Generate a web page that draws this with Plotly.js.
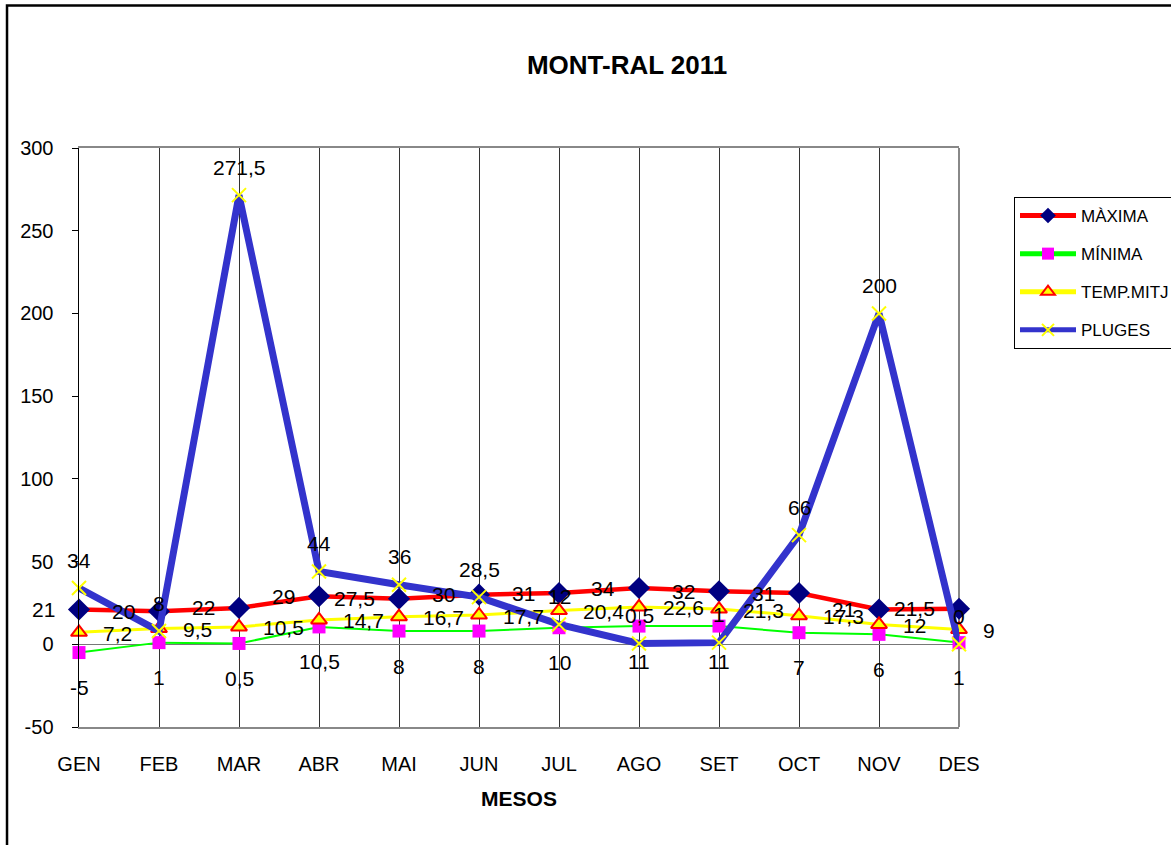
<!DOCTYPE html>
<html>
<head>
<meta charset="utf-8">
<script src="https://cdn.plot.ly/plotly-3.0.1.min.js"></script>
<style>
  html, body { margin: 0; padding: 0; background: #ffffff; }
  #chart { width: 1171px; height: 845px; }
</style>
</head>
<body>
<div id="chart"></div>
<script>
const months = ['GEN','FEB','MAR','ABR','MAI','JUN','JUL','AGO','SET','OCT','NOV','DES'];
const maxima = [21, 20, 22, 29, 27.5, 30, 31, 34, 32, 31, 21, 21.5];
const minima = [-5, 1, 0.5, 10.5, 8, 8, 10, 11, 11, 7, 6, 1];
const tempMitj = [7.2, 9.5, 10.5, 14.7, 16.7, 17.7, 20.4, 22.6, 21.3, 17.3, 12, 9];
const pluges = [34, 8, 271.5, 44, 36, 28.5, 12, 0.5, 1, 66, 200, 0];
const yTicks = [-50, 0, 50, 100, 150, 200, 250, 300];

const FONT = 'Liberation Sans, Arial, sans-serif';
const fmt = v => String(v).replace('.', ',');

const traces = [
  { name: 'MÀXIMA', y: maxima, legendgroup: 'a',
    line: { color: '#FF0000', width: 4.5 },
    marker: { symbol: 'diamond', size: 17, color: '#000080' } },
  { name: 'MÍNIMA', y: minima, legendgroup: 'b',
    line: { color: '#00FF00', width: 2 },
    marker: { symbol: 'square', size: 13, color: '#FF00FF' } },
  { name: 'TEMP.MITJ', y: tempMitj, legendgroup: 'c',
    line: { color: '#FFFF00', width: 3 },
    marker: { symbol: 'triangle-up', size: 14, color: '#FFFF00', line: { color: '#FF0000', width: 2 } } },
  { name: 'PLUGES', y: pluges, legendgroup: 'd',
    line: { color: '#3333CC', width: 7 },
    marker: { symbol: 'x-thin', size: 14, color: '#FFFF00', line: { color: '#FFFF00', width: 2 } } }
].map(t => Object.assign({ type: 'scatter', mode: 'lines+markers', x: months, cliponaxis: false, hoverinfo: 'skip' }, t));

function labels(vals, extra) {
  return vals.map((v, i) => Object.assign({
    x: months[i], y: v, xref: 'x', yref: 'y', text: fmt(v), showarrow: false,
    font: { family: FONT, size: 21, color: '#000000' }, yanchor: 'middle'
  }, extra));
}

const annotations = [].concat(
  labels(maxima, { xanchor: 'right', xshift: -22, yshift: 0 }),
  labels(minima, { xanchor: 'center', yshift: -35 }),
  labels(tempMitj, { xanchor: 'left', xshift: 22, yshift: -1 }),
  labels(pluges, { xanchor: 'center', yshift: 28 })
);

const layout = {
  width: 1171, height: 845,
  margin: { l: 79, r: 212, t: 148, b: 118, autoexpand: false },
  paper_bgcolor: '#ffffff', plot_bgcolor: '#ffffff',
  font: { family: FONT, size: 20, color: '#000000' },
  showlegend: true,
  title: { text: 'MONT-RAL 2011', font: { family: FONT, size: 26, weight: 700, color: '#000000' },
           xref: 'container', yref: 'container', x: 0.5355, y: 0.923, xanchor: 'center', yanchor: 'middle' },
  xaxis: {
    type: 'category', range: [0, 11],
    showgrid: true, gridcolor: '#333333', gridwidth: 1,
    showline: true, linecolor: '#888888', linewidth: 2, mirror: true,
    ticks: '', ticklabelstandoff: 18,
    tickfont: { family: FONT, size: 20, color: '#000000' },
    title: { text: 'MESOS', font: { family: FONT, size: 21, weight: 700, color: '#000000' }, standoff: 17 },
    zeroline: false, fixedrange: true
  },
  yaxis: {
    range: [-50, 300], tickvals: yTicks, ticktext: yTicks.map(String),
    showgrid: false,
    showline: true, linecolor: '#000000', linewidth: 1.5,
    ticks: 'outside', ticklen: 6, tickcolor: '#000000', tickwidth: 1,
    ticklabelstandoff: 14,
    tickfont: { family: FONT, size: 20, color: '#000000' },
    zeroline: true, zerolinecolor: '#777777', zerolinewidth: 1.5, fixedrange: true
  },
  legend: {
    x: 1.0625, y: 0.9154, xanchor: 'left', yanchor: 'top',
    bordercolor: '#000000', borderwidth: 1, bgcolor: '#ffffff',
    font: { family: FONT, size: 17, color: '#000000' },
    tracegroupgap: 13, itemwidth: 56, itemsizing: 'constant'
  },
  shapes: [
    { type: 'rect', xref: 'paper', yref: 'paper', x0: -0.0818, x1: 1.3, y0: -0.3, y1: 1.246,
      line: { color: '#000000', width: 2.5 }, fillcolor: 'rgba(0,0,0,0)', layer: 'below' },
    { type: 'line', xref: 'paper', yref: 'paper', x0: 1, x1: 1, y0: 0, y1: 1,
      line: { color: '#888888', width: 2 }, layer: 'below' }
  ],
  annotations: annotations
};

Plotly.newPlot('chart', traces, layout, { displayModeBar: false, staticPlot: true });
</script>
</body>
</html>
